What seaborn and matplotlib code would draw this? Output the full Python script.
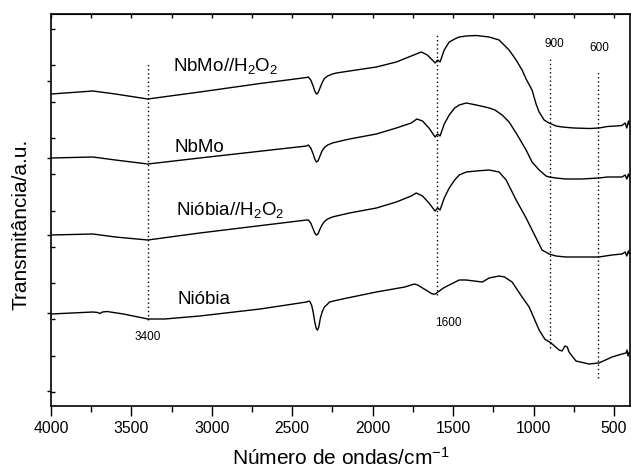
import numpy as np
import pandas as pd
import matplotlib
matplotlib.use("Agg")
import matplotlib.pyplot as plt
import seaborn as sns
from matplotlib.ticker import MultipleLocator, FixedLocator

# ---- data (wavenumber in cm-1, transmittance in arbitrary units) ----
nbmo_h2o2_w = [4000, 3739, 3600, 3398, 3075, 2700, 2411, 2400, 2385, 2370, 2360, 2350, 2340, 2330,
               2315, 2300, 2280, 2250, 2225, 2144,
               1977, 1853, 1760, 1698, 1660, 1635, 1612, 1596, 1581, 1555, 1524, 1490, 1462,
               1418, 1356, 1276, 1214, 1152, 1108, 1071, 1046, 1009, 984, 965, 934, 903, 860, 822,
               750, 650, 593, 540, 487, 450, 430, 420, 410, 404]
nbmo_h2o2_t = [312, 315, 312, 307, 314, 322.5, 328.5, 329, 326, 320, 315, 312, 313, 317,
               323, 327.5, 330, 332, 333, 335,
               339, 344, 350, 354, 351, 347, 343, 346, 344, 356, 364, 367, 369,
               370, 370.5, 369, 366, 356, 346, 336, 327, 316, 302, 294, 286, 283, 280, 279,
               278, 277.5, 278, 279.5, 280, 280.5, 283, 278, 285, 281]

nbmo_w = [4000, 3739, 3600, 3398, 3075, 2411, 2400, 2385, 2370, 2360, 2350, 2340, 2330, 2315,
          2300, 2280, 2250, 2225, 2144, 1977,
          1853, 1760, 1725, 1690, 1650, 1612, 1596, 1581, 1555, 1524, 1490, 1462, 1418,
          1356, 1300, 1276, 1240, 1195, 1152, 1108, 1046, 1009, 965, 922, 903, 860, 800, 700,
          593, 540, 487, 450, 430, 420, 410, 404]
nbmo_t = [248, 249, 246, 242, 248, 260, 261, 258, 252, 247, 244, 245, 249, 255,
          258.5, 261, 263, 264, 267, 272,
          278, 283, 287, 285, 278, 269, 272, 270, 282, 291, 298, 301, 303,
          301, 299, 298, 296, 291, 284, 273, 256, 244, 236, 230, 229, 228, 227, 227,
          228, 229, 229, 229, 231, 227, 232, 229]

niobia_h2o2_w = [4000, 3739, 3600, 3398, 3075, 2411, 2400, 2385, 2370, 2360, 2350, 2340, 2330,
                 2315, 2300, 2280, 2250, 2225, 2144,
                 1977, 1853, 1760, 1729, 1690, 1650, 1612, 1596, 1581, 1555, 1524, 1490,
                 1462, 1418, 1356, 1276, 1214, 1170, 1108, 1046, 984, 947, 903, 860, 800, 700,
                 593, 512, 450, 430, 420, 410, 404]
niobia_h2o2_t = [171, 172, 169, 166, 173, 186, 186, 183, 177, 173, 171, 172, 176,
                 181, 184.5, 187, 189, 190, 193,
                 198, 204, 210, 213, 210, 203, 195, 198, 196, 208, 218, 226,
                 231, 234, 235, 236, 234, 226, 206, 188, 168, 156, 152, 150, 149, 149,
                 149, 151, 152, 154, 150, 155, 152]

niobia_w = [4000, 3739, 3710, 3696, 3680, 3652, 3550, 3398, 3293, 3075, 2700, 2411, 2393, 2380,
            2370, 2360, 2350, 2343, 2335, 2325, 2312, 2300, 2280, 2269, 2188, 1977, 1800, 1741,
            1720, 1680, 1629, 1611, 1560, 1524,
            1462, 1420, 1319, 1307, 1276, 1214, 1180, 1133, 1100, 1071, 1027, 965, 930, 891,
            841, 822, 805, 790, 779, 736, 655, 593, 512, 450, 425, 418, 412, 404]
niobia_t = [92, 94, 93.5, 92.5, 94, 94.5, 92, 87, 87, 90, 97, 104, 105, 101,
            94, 84, 77, 76, 79, 88, 95, 99, 102, 104, 107, 114, 119, 122,
            121, 117, 112, 112, 118, 121,
            126, 126, 124, 125, 128, 130, 129, 124, 116, 109, 99, 76, 67, 63,
            56, 55, 60, 59, 54, 45, 42, 43, 49, 52, 53, 56, 50, 54]

series_names = ["NbMo//H$_2$O$_2$", "NbMo", "Nióbia//H$_2$O$_2$", "Nióbia"]
marker_lines = [3400, 1600, 900, 600]
marker_labels = ["3400", "1600", "900", "600"]

# ---- build long table ----
frames = []
for name, w, t in zip(series_names,
                      [nbmo_h2o2_w, nbmo_w, niobia_h2o2_w, niobia_w],
                      [nbmo_h2o2_t, nbmo_t, niobia_h2o2_t, niobia_t]):
    frames.append(pd.DataFrame({"w": w, "t": t, "s": name}))
df = pd.concat(frames, ignore_index=True)

sns.set_style("ticks")
plt.rcParams["font.family"] = ["Liberation Sans", "DejaVu Sans"]
plt.rcParams["mathtext.default"] = "regular"
for k in ["text.color", "axes.labelcolor", "xtick.color", "ytick.color", "axes.edgecolor"]:
    plt.rcParams[k] = "black"

fig = plt.figure(figsize=(6.31, 4.71), dpi=100)
W, H = 631, 471
ax = fig.add_axes([51 / W, (H - 406) / H, (630 - 51) / W, (406 - 14) / H])

for name in series_names:
    sns.lineplot(data=df[df["s"] == name], x="w", y="t", ax=ax, color="black",
                 linewidth=1.0, estimator=None, sort=False, legend=False)

# vertical dotted reference lines
dot = (0, (1, 2))
ax.vlines(marker_lines[0], 86, 344, colors="black", linestyles=dot, linewidth=1)
ax.vlines(marker_lines[1], 111, 371, colors="black", linestyles=dot, linewidth=1)
ax.vlines(marker_lines[2], 58, 347, colors="black", linestyles=dot, linewidth=1)
ax.vlines(marker_lines[3], 28, 336, colors="black", linestyles=dot, linewidth=1)

ax.text(3400, 66, marker_labels[0], ha="center", va="baseline", fontsize=8.5)
ax.text(1610, 80, marker_labels[1], ha="left", va="baseline", fontsize=8.5)
ax.text(872, 359, marker_labels[2], ha="center", va="baseline", fontsize=8.5)
ax.text(593, 355, marker_labels[3], ha="center", va="baseline", fontsize=8.5)

# curve labels
ax.text(3243, 335, series_names[0], ha="left", va="baseline", fontsize=13.5)
ax.text(3230, 254, series_names[1], ha="left", va="baseline", fontsize=13.5)
ax.text(3224, 191, series_names[2], ha="left", va="baseline", fontsize=13.5)
ax.text(3212, 102, series_names[3], ha="left", va="baseline", fontsize=13.5)

ax.set_xlim(4000, 400)
ax.set_ylim(0, 392)
ax.xaxis.set_major_locator(MultipleLocator(500))
ax.xaxis.set_minor_locator(MultipleLocator(250))
ax.yaxis.set_major_locator(FixedLocator([14 + 36.3 * k for k in range(11)]))
ax.yaxis.set_minor_locator(FixedLocator([15.5, 93, 171, 248, 325.5]))
ax.set_yticklabels([])

ax.tick_params(axis="x", which="major", direction="out", length=7, width=1,
               labelsize=11.3, pad=4, top=False)
ax.tick_params(axis="x", which="minor", direction="out", length=4, width=1, top=False)
ax.tick_params(axis="y", which="major", direction="in", length=3, width=1, right=False)
ax.tick_params(axis="y", which="minor", direction="out", length=3, width=1, right=False)

# top ticks (inward) at every 250
sec = ax.secondary_xaxis("top")
sec.set_xticks(np.arange(4000, 399, -250))
sec.tick_params(direction="in", length=3, width=1, labeltop=False)
sec.set_xticklabels([])

for sp in ax.spines.values():
    sp.set_visible(True)
    sp.set_linewidth(1.2)
    sp.set_color("black")

ax.set_xlabel("Número de ondas/cm$^{-1}$", fontsize=15, labelpad=8)
ax.set_ylabel("Transmitância/a.u.", fontsize=15)
ax.yaxis.set_label_coords(-0.036, 0.464)

fig.savefig("out.png", dpi=100)
